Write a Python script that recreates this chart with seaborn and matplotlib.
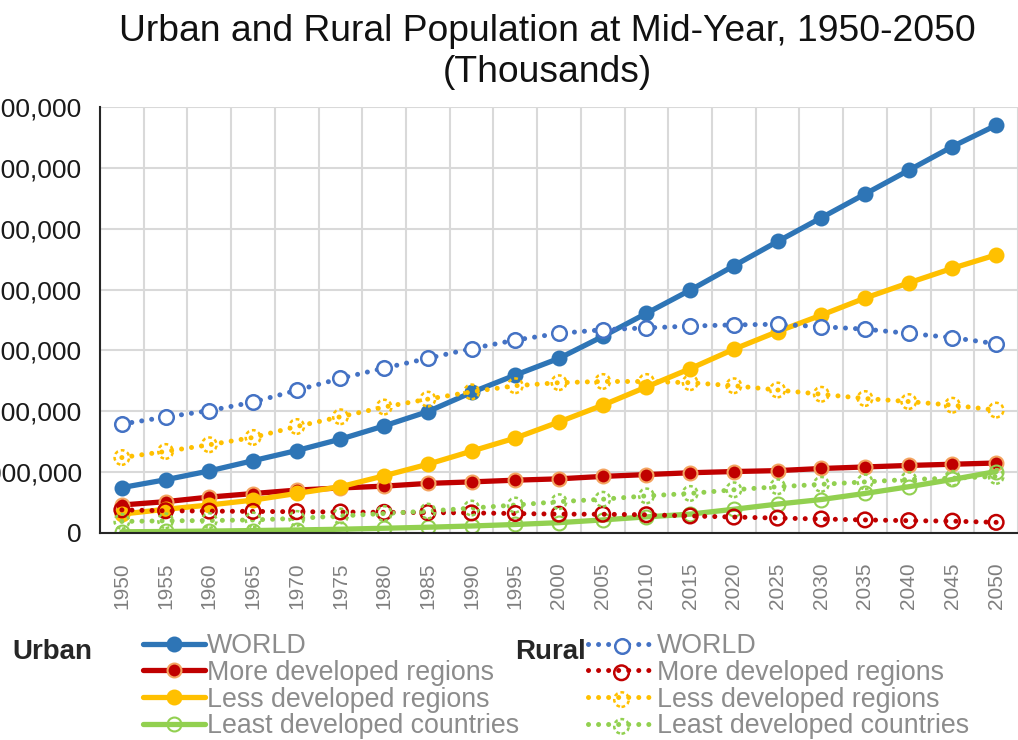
import seaborn as sns
import matplotlib.pyplot as plt
from matplotlib.legend_handler import HandlerTuple

years = [1950, 1955, 1960, 1965, 1970, 1975, 1980, 1985, 1990, 1995, 2000,
         2005, 2010, 2015, 2020, 2025, 2030, 2035, 2040, 2045, 2050]

# thousands
urban_world = [746000, 875000, 1020000, 1188000, 1355000, 1542000, 1760000, 1995000,
               2310000, 2595000, 2870000, 3230000, 3610000, 3990000, 4390000, 4790000,
               5180000, 5570000, 5960000, 6350000, 6700000]
urban_more = [460000, 515000, 590000, 648000, 705000, 740000, 770000, 815000, 840000,
              868000, 890000, 930000, 960000, 990000, 1010000, 1025000, 1060000,
              1085000, 1110000, 1130000, 1150000]
urban_less = [310000, 390000, 460000, 540000, 650000, 760000, 940000, 1130000, 1345000,
              1560000, 1825000, 2100000, 2400000, 2700000, 3020000, 3310000, 3580000,
              3860000, 4110000, 4350000, 4570000]
urban_least = [20000, 25000, 32000, 40000, 50000, 62000, 78000, 95000, 115000, 140000,
               170000, 215000, 265000, 310000, 390000, 475000, 550000, 650000, 760000,
               880000, 1010000]
rural_world = [1790000, 1905000, 2010000, 2150000, 2345000, 2540000, 2710000, 2870000,
               3030000, 3170000, 3280000, 3340000, 3370000, 3400000, 3420000, 3430000,
               3390000, 3350000, 3280000, 3210000, 3110000]
rural_more = [380000, 365000, 360000, 355000, 350000, 345000, 340000, 335000, 330000,
              320000, 310000, 308000, 300000, 280000, 262000, 245000, 230000, 215000,
              203000, 195000, 175000]
rural_less = [1240000, 1340000, 1450000, 1570000, 1750000, 1910000, 2070000, 2200000,
              2320000, 2420000, 2470000, 2490000, 2490000, 2470000, 2420000, 2350000,
              2280000, 2210000, 2160000, 2100000, 2020000]
rural_least = [190000, 200000, 205000, 215000, 240000, 280000, 320000, 360000, 410000,
               460000, 515000, 555000, 610000, 650000, 710000, 760000, 800000, 840000,
               880000, 900000, 930000]

labels = ['WORLD', 'More developed regions', 'Less developed regions',
          'Least developed countries']

sns.set_style('white')
plt.rcParams['font.family'] = ['Liberation Sans', 'DejaVu Sans']

fig = plt.figure(figsize=(10.18, 7.4), dpi=100)
ax = fig.add_axes([100 / 1018, 207 / 740, 918 / 1018, 426 / 740])

# urban: solid lines with round markers
urban = [urban_world, urban_more, urban_less, urban_least]
u_colors = ['#2E75B6', '#C00000', '#FFC000', '#92D050']
u_face = ['#2E75B6', '#C00000', '#FFC000', 'none']
u_edge = ['#2E75B6', '#F4A460', '#FFC000', '#92D050']
urban_handles = []
for vals, c, fc, ec in zip(urban, u_colors, u_face, u_edge):
    sns.lineplot(x=years, y=vals, ax=ax, color=c, linewidth=3.8, marker='o',
                 markersize=10, markerfacecolor=fc, markeredgecolor=ec,
                 markeredgewidth=1.5, legend=False)
    urban_handles.append(ax.get_lines()[-1])

# rural: dotted lines with open markers
rural = [rural_world, rural_more, rural_less, rural_least]
r_colors = ['#4472C4', '#C00000', '#FFC000', '#92D050']
r_face = ['white', 'none', 'none', 'none']
r_ls = ['-', '-', (0, (1.5, 1.2)), (0, (1.5, 1.2))]
rural_handles = []
for vals, c, fc, ls in zip(rural, r_colors, r_face, r_ls):
    sns.lineplot(x=years, y=vals, ax=ax, color=c, linewidth=3.6,
                 linestyle=(0, (0.01, 2.0)), dash_capstyle='round', legend=False)
    ln = ax.get_lines()[-1]
    sns.scatterplot(x=years, y=vals, ax=ax, s=110, facecolor=fc, edgecolor=c,
                    linewidth=1.8, linestyle=ls, zorder=3, legend=False)
    rural_handles.append((ln, ax.collections[-1]))

ax.set_xlim(1947.5, 2052.5)
ax.set_ylim(0, 7000000)
ax.set_xticks(years)
ax.set_xticks([y - 2.5 for y in years] + [2052.5], minor=True)
ax.set_yticks(range(0, 7000001, 1000000))
ax.yaxis.set_major_formatter(lambda v, p: f'{v:,.0f}')
ax.grid(False)
ax.grid(True, axis='y', which='major', color='#D9D9D9', linewidth=1.5)
ax.grid(True, axis='x', which='minor', color='#D9D9D9', linewidth=1.5)
ax.set_axisbelow(True)
for s in ['top', 'right']:
    ax.spines[s].set_visible(False)
for s in ['left', 'bottom']:
    ax.spines[s].set_color('#262626')
    ax.spines[s].set_linewidth(1.5)
ax.tick_params(axis='both', which='both', length=0)
ax.tick_params(axis='y', labelsize=19, pad=13, labelcolor='#1a1a1a')
ax.tick_params(axis='x', labelsize=15, pad=21, labelcolor='#7f7f7f',
               labelrotation=90)

fig.text(547.5 / 1018, 1 - 52 / 740,
         'Urban and Rural Population at Mid-Year, 1950-2050\n(Thousands)',
         ha='center', va='center', fontsize=26.8, linespacing=1.25, color='#111111')

fig.text(12 / 1018, 1 - 652 / 740, 'Urban', fontsize=20, fontweight='bold',
         ha='left', va='center')
fig.text(515 / 1018, 1 - 652 / 740, 'Rural', fontsize=20, fontweight='bold',
         ha='left', va='center')

leg_kw = dict(loc='upper left', frameon=False, fontsize=19.3, labelcolor='#8c8c8c',
              handletextpad=0.08, labelspacing=0.03, borderpad=0, borderaxespad=0)
fig.legend(urban_handles, labels, bbox_to_anchor=(143 / 1018, 1 - 633 / 740),
           handlelength=2.3, **leg_kw)
fig.legend(rural_handles, labels, bbox_to_anchor=(588 / 1018, 1 - 633 / 740),
           handlelength=2.5, handler_map={tuple: HandlerTuple(ndivide=1, pad=0)},
           **leg_kw)

fig.savefig('out.png', dpi=100)
